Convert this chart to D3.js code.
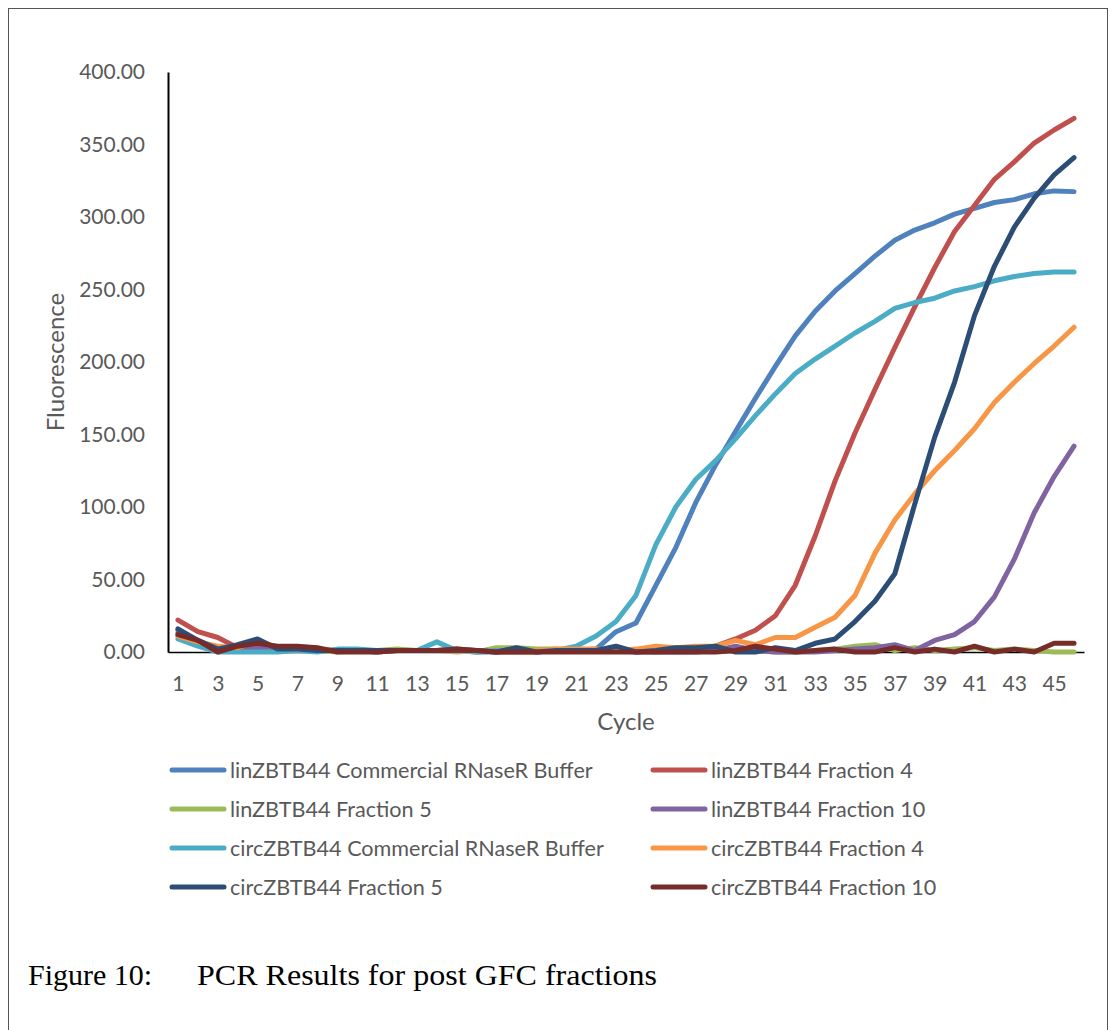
<!DOCTYPE html>
<meta charset="utf-8">
<script src="https://d3js.org/d3.v7.min.js"></script>
<style>
  body { margin: 0; background: #fff; }
  text { font-family: Lato, "Noto Sans", sans-serif; }
</style>
<div id="my_dataviz"></div>
<script>

// cycles on the x axis
var cycles = d3.range(1, 47);

var seriesNames = [
  "linZBTB44 Commercial RNaseR Buffer",
  "linZBTB44 Fraction 4",
  "linZBTB44 Fraction 5",
  "linZBTB44 Fraction 10",
  "circZBTB44 Commercial RNaseR Buffer",
  "circZBTB44 Fraction 4",
  "circZBTB44 Fraction 5",
  "circZBTB44 Fraction 10"
];

// fluorescence per cycle
var linCommercial = [15, 8, 2, 3, 4, 2, 1, 1, 1, 1, 0, 1, 1, 1, 1, 0, 0, 1, 1, 1, 1, 2, 14, 20, 46, 72, 103, 129, 152, 175, 197, 218, 235, 249, 261, 273, 284, 291, 296, 302, 306, 310, 312, 316, 318, 317.5];
var linFraction4 = [22, 14, 10, 3, 5, 3, 2, 2, 1, 1, 0, 1, 1, 1, 2, 1, 0, 0, 0, 1, 1, 1, 1, 1, 1, 2, 3, 4, 9, 15, 25, 46, 80, 118, 151, 181, 210, 238, 265, 290, 308, 326, 338, 351, 360, 368];
var linFraction5 = [11, 5, 1, 1, 2, 2, 1, 1, 0, 1, 1, 2, 1, 1, 1, 0, 3, 3, 2, 2, 1, 1, 1, 1, 0, 1, 1, 2, 1, 1, 0, 0, 1, 2, 4, 5, 1, 3, 1, 2, 3, 1, 2, 1, 0, 0];
var linFraction10 = [13, 7, 2, 3, 3, 2, 2, 1, 1, 1, 1, 1, 1, 1, 1, 1, 0, 1, 1, 1, 1, 1, 1, 0, 0, 0, 0, 1, 4, 1, 0, 0, 0, 1, 2, 3, 5, 1, 8, 12, 21, 38, 64, 96, 121, 142];
var circCommercial = [9, 4, 0, 0, 0, 0, 1, 0, 2, 2, 1, 1, 1, 7, 1, 0, 1, 1, 1, 1, 4, 11, 21, 39, 74, 100, 119, 132, 147, 163, 178, 192, 202, 211, 220, 228, 237, 241, 244, 249, 252, 256, 259, 261, 262, 262];
var circFraction4 = [11, 7, 4, 3, 8, 3, 2, 2, 1, 1, 1, 1, 1, 1, 0, 1, 0, 1, 1, 2, 2, 2, 1, 2, 4, 3, 4, 4, 8, 5, 10, 10, 17, 24, 39, 68, 91, 109, 125, 139, 154, 172, 186, 199, 211, 224];
var circFraction5 = [16, 8, 2, 5, 9, 2, 2, 1, 1, 1, 1, 1, 1, 1, 1, 1, 0, 3, 0, 1, 1, 1, 4, 0, 1, 3, 3, 4, 0, 0, 3, 1, 6, 9, 21, 35, 54, 102, 148, 186, 232, 266, 293, 313, 329, 341];
var circFraction10 = [12, 8, 0, 4, 6, 4, 4, 3, 0, 0, 0, 1, 1, 1, 2, 1, 0, 0, 0, 0, 0, 0, 0, 0, 0, 0, 0, 0, 1, 4, 2, 0, 1, 2, 0, 0, 3, 0, 2, 0, 4, 0, 2, 0, 6, 6];

var yTicks = [0, 50, 100, 150, 200, 250, 300, 350, 400];

var colors = ["#4F81BD", "#C0504D", "#9BBB59", "#8064A2", "#4BACC6", "#F79646", "#2C4D75", "#772C2A"];

var allValues = [linCommercial, linFraction4, linFraction5, linFraction10,
                 circCommercial, circFraction4, circFraction5, circFraction10];

var W = 1110, H = 1030;
var margin = {top: 72, left: 168, right: 1084, bottom: 652};

var svg = d3.select("#my_dataviz")
  .append("svg")
    .attr("width", W)
    .attr("height", H);

// frame around the figure
svg.append("rect")
  .attr("x", 8.5).attr("y", 8.5)
  .attr("width", 1099).attr("height", 1060)
  .attr("fill", "none")
  .attr("stroke", "#555")
  .attr("stroke-width", 1);

var x = d3.scalePoint()
  .domain(cycles)
  .range([margin.left, margin.right])
  .padding(0.5);

var y = d3.scaleLinear()
  .domain([0, 400])
  .range([margin.bottom, margin.top]);

// Y axis
var yAxis = svg.append("g")
  .attr("transform", "translate(" + margin.left + ",0)")
  .call(d3.axisLeft(y).tickValues(yTicks).tickFormat(d3.format(".2f")).tickSize(0).tickPadding(23));
yAxis.select(".domain").attr("stroke", "#000").attr("stroke-width", 2);
yAxis.selectAll("text")
  .style("font-family", "Lato, sans-serif")
  .style("font-size", "21px")
  .attr("fill", "#595959");

// X axis, every other label
var xAxis = svg.append("g")
  .attr("transform", "translate(0," + margin.bottom + ")")
  .call(d3.axisBottom(x)
    .tickValues(cycles.filter(function(d) { return d % 2 == 1; }))
    .tickSize(0).tickPadding(24));
xAxis.select(".domain").attr("stroke", "#000").attr("stroke-width", 1.5);
xAxis.selectAll("text")
  .style("font-family", "Lato, sans-serif")
  .style("font-size", "21px")
  .attr("fill", "#595959");

// axis titles
svg.append("text")
  .attr("transform", "translate(64,362) rotate(-90)")
  .attr("text-anchor", "middle")
  .style("font-size", "24px")
  .attr("fill", "#595959")
  .text("Fluorescence");

svg.append("text")
  .attr("x", 626)
  .attr("y", 730)
  .attr("text-anchor", "middle")
  .style("font-size", "24px")
  .attr("fill", "#595959")
  .text("Cycle");

// lines
var line = d3.line()
  .x(function(d, i) { return x(cycles[i]); })
  .y(function(d) { return y(d); });

svg.append("g")
  .selectAll("path")
  .data(allValues)
  .enter()
  .append("path")
    .attr("d", line)
    .attr("fill", "none")
    .attr("stroke", function(d, i) { return colors[i]; })
    .attr("stroke-width", 5)
    .attr("stroke-linejoin", "round")
    .attr("stroke-linecap", "round");

// legend, two columns
var legend = svg.append("g")
  .selectAll("g")
  .data(seriesNames)
  .enter()
  .append("g")
    .attr("transform", function(d, i) {
      return "translate(" + (i % 2 == 0 ? 172 : 653) + "," + (770 + Math.floor(i / 2) * 39) + ")";
    });

legend.append("line")
  .attr("x1", 0).attr("x2", 52)
  .attr("y1", 0).attr("y2", 0)
  .attr("stroke", function(d, i) { return colors[i]; })
  .attr("stroke-width", 5)
  .attr("stroke-linecap", "round");

legend.append("text")
  .attr("x", 58)
  .attr("y", 7.5)
  .style("font-size", "21.6px")
  .attr("fill", "#595959")
  .text(function(d) { return d; });

// caption
svg.append("text")
  .attr("x", 28)
  .attr("y", 985)
  .style("font-family", "'Liberation Serif', 'Times New Roman', serif")
  .style("font-size", "30px")
  .attr("fill", "#000")
  .text("Figure 10:");

svg.append("text")
  .attr("x", 197)
  .attr("y", 985)
  .style("font-family", "'Liberation Serif', 'Times New Roman', serif")
  .style("font-size", "30px")
  .attr("fill", "#000")
  .attr("textLength", 460)
  .attr("lengthAdjust", "spacingAndGlyphs")
  .text("PCR Results for post GFC fractions");

</script>
